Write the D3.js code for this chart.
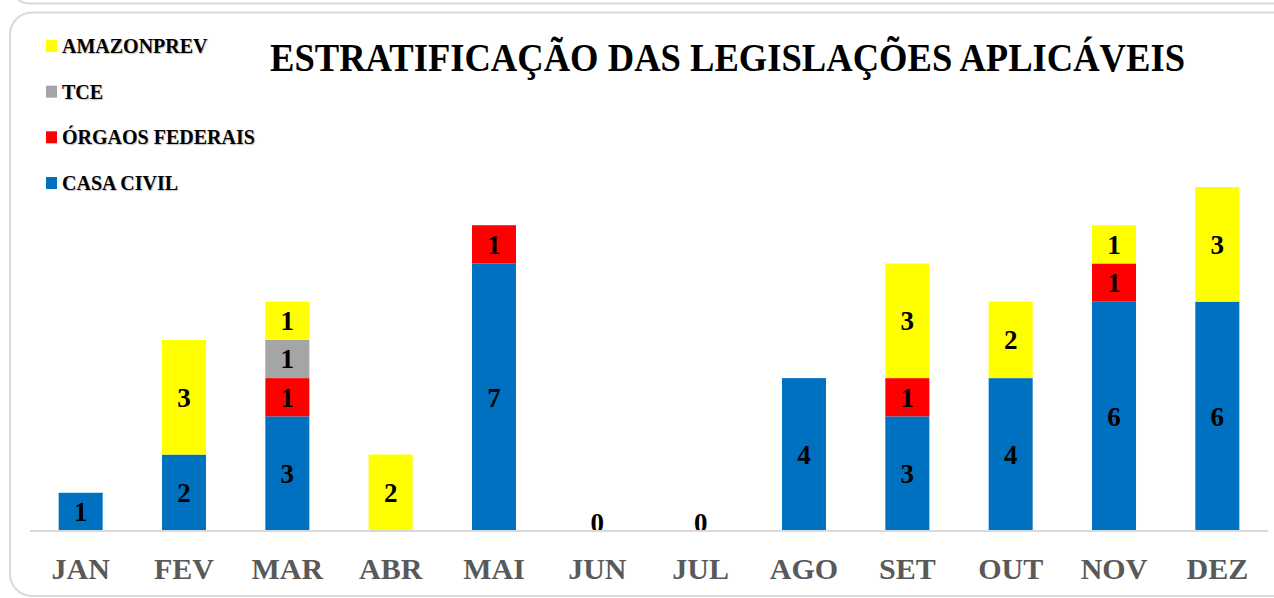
<!DOCTYPE html>
<html>
<head>
<meta charset="utf-8">
<script src="https://cdn.jsdelivr.net/npm/d3@7"></script>
<style>
  html, body { margin: 0; padding: 0; background: #fff; }
  svg { display: block; }
  text { font-family: "Liberation Serif", "Times New Roman", serif; }
</style>
</head>
<body>
<svg id="chart" width="1274" height="598"></svg>
<script>
const months = ["JAN","FEV","MAR","ABR","MAI","JUN","JUL","AGO","SET","OUT","NOV","DEZ"];
const casaCivil      = [1,2,3,0,7,0,0,4,3,4,6,6];
const orgaosFederais = [0,0,1,0,1,0,0,0,1,0,1,0];
const tce            = [0,0,1,0,0,0,0,0,0,0,0,0];
const amazonprev     = [0,3,1,2,0,0,0,0,3,2,1,3];
const seriesNames  = ["CASA CIVIL","ÓRGAOS FEDERAIS","TCE","AMAZONPREV"];
const seriesColors = ["#0070C0","#FF0000","#A5A5A5","#FFFF00"];
const title = "ESTRATIFICAÇÃO DAS LEGISLAÇÕES APLICÁVEIS";

const svg = d3.select("#chart");

// frames
svg.append("rect").attr("x", 10).attr("y", -100).attr("width", 1400).attr("height", 103.5)
  .attr("rx", 20).attr("fill", "none").attr("stroke", "#d9d9d9").attr("stroke-width", 2);
svg.append("rect").attr("x", 10).attr("y", 12.5).attr("width", 1400).attr("height", 583.5)
  .attr("rx", 22).attr("fill", "#fff").attr("stroke", "#d9d9d9").attr("stroke-width", 2);

const rows = months.map((m, i) => ({
  month: m,
  "CASA CIVIL": casaCivil[i],
  "ÓRGAOS FEDERAIS": orgaosFederais[i],
  "TCE": tce[i],
  "AMAZONPREV": amazonprev[i]
}));

const x = d3.scaleBand().domain(months).range([29, 1269]).paddingInner(0.574).paddingOuter(0.287);
const y = d3.scaleLinear().domain([0, 9]).range([531, 187]);
const color = d3.scaleOrdinal().domain(seriesNames).range(seriesColors);

const stacked = d3.stack().keys(seriesNames)(rows);

const g = svg.append("g");
stacked.forEach(layer => {
  const key = layer.key;
  g.selectAll(null).data(layer.filter(d => d[1] - d[0] > 0)).enter()
    .append("rect")
    .attr("x", d => x(d.data.month))
    .attr("width", x.bandwidth())
    .attr("y", d => y(d[1]))
    .attr("height", d => y(d[0]) - y(d[1]))
    .attr("fill", color(key));
});

// segment labels
stacked.forEach(layer => {
  g.selectAll(null).data(layer.filter(d => d[1] - d[0] > 0)).enter()
    .append("text")
    .attr("x", d => x(d.data.month) + x.bandwidth() / 2)
    .attr("y", d => (y(d[0]) + y(d[1])) / 2)
    .attr("dy", "0.35em")
    .attr("text-anchor", "middle")
    .attr("font-size", 27)
    .attr("font-weight", "bold")
    .attr("fill", "#000")
    .text(d => d[1] - d[0]);
});

// zero labels
rows.forEach((r, i) => {
  const total = casaCivil[i] + orgaosFederais[i] + tce[i] + amazonprev[i];
  if (total === 0) {
    g.append("text")
      .attr("x", x(r.month) + x.bandwidth() / 2)
      .attr("y", y(0) - 8)
      .attr("dy", "0.35em")
      .attr("text-anchor", "middle")
      .attr("font-size", 27)
      .attr("font-weight", "bold")
      .attr("fill", "#000")
      .text("0");
  }
});

// x axis
const xAxis = svg.append("g").attr("transform", `translate(0,${y(0)})`)
  .call(d3.axisBottom(x).tickSize(0).tickPadding(27));
xAxis.select(".domain").attr("stroke", "#d9d9d9").attr("stroke-width", 2)
  .attr("d", "M30,0H1268");
xAxis.selectAll(".tick text")
  .attr("font-family", "'Liberation Serif', 'Times New Roman', serif")
  .attr("font-size", 30).attr("font-weight", "bold").attr("fill", "#595959");

// title
svg.append("text")
  .attr("x", 727.5).attr("y", 71)
  .attr("text-anchor", "middle")
  .attr("font-size", 40).attr("font-weight", "bold").attr("fill", "#000")
  .attr("textLength", 915).attr("lengthAdjust", "spacingAndGlyphs")
  .text(title);

// legend
const legendOrder = ["AMAZONPREV","TCE","ÓRGAOS FEDERAIS","CASA CIVIL"];
const legendY = d3.scalePoint().domain(legendOrder).range([46, 183]);
const lg = svg.append("g");
legendOrder.forEach(name => {
  const cy = legendY(name);
  lg.append("rect").attr("x", 46).attr("y", cy - 6).attr("width", 11).attr("height", 12)
    .attr("fill", color(name));
  lg.append("text").attr("x", 62).attr("y", cy + 7)
    .attr("font-size", 20).attr("font-weight", "bold").attr("fill", "#000")
    .style("text-shadow", "1px 1px 1px rgba(0,0,0,0.25)")
    .text(name);
});
</script>
</body>
</html>
